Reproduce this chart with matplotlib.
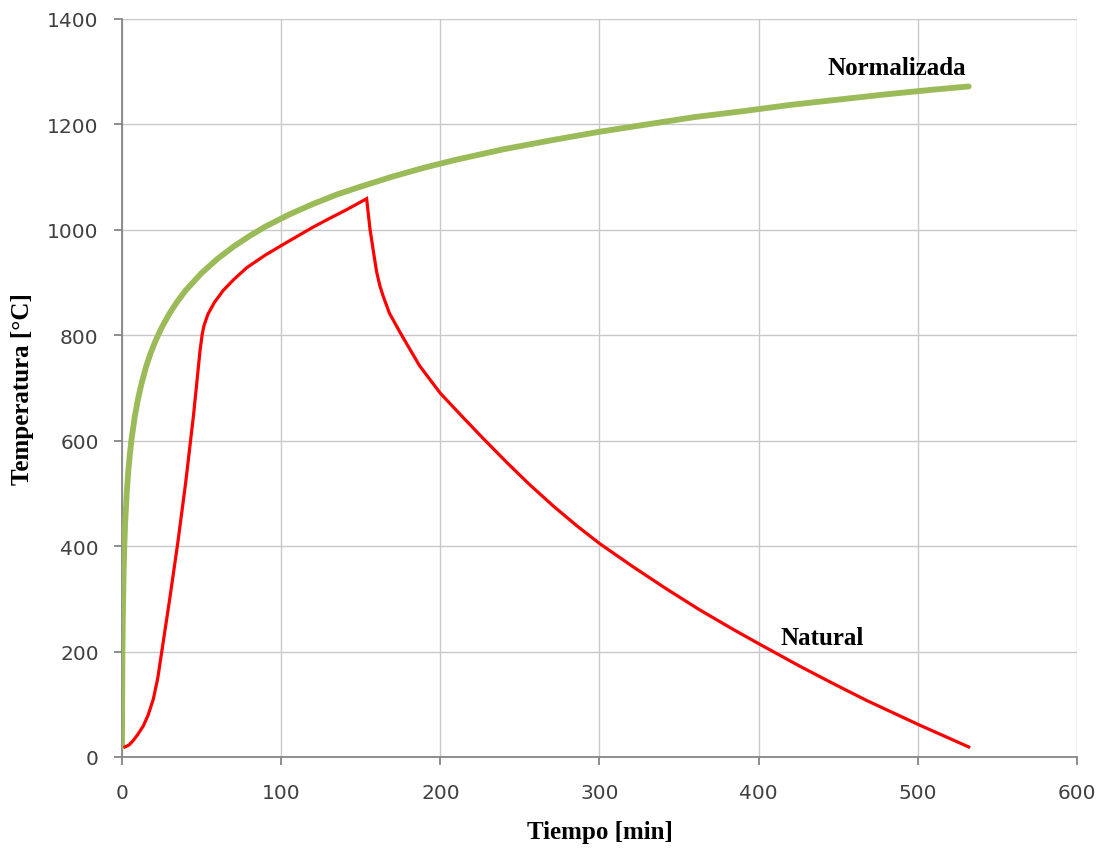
import matplotlib
matplotlib.use("Agg")
import matplotlib.pyplot as plt

# Normalizada (standard fire curve)
t_norm = [0, 0.25, 0.5, 1, 1.5, 2, 3, 4, 5, 6, 8, 10, 12, 15, 18, 21, 25,
          30, 35, 40, 50, 60, 70, 80, 90, 105, 120, 135, 150, 170, 190,
          210, 240, 270, 300, 330, 360, 390, 420, 450, 480, 510, 532]
T_norm = [20, 185, 261, 349, 404, 445, 502, 544, 576, 603, 645, 678, 705,
          739, 766, 789, 815, 842, 865, 885, 918, 945, 968, 988, 1006, 1029,
          1049, 1067, 1082, 1101, 1118, 1133, 1153, 1170, 1186, 1200, 1214,
          1225, 1237, 1247, 1257, 1266, 1272]

# Natural fire curve
t_nat = [1.9, 4.5, 7, 10, 13.4, 16.5, 19.7, 22.5, 25, 30, 35, 40, 45, 49,
         50.4, 51.5, 54, 58, 63.6, 70, 78.3, 90, 100, 120, 130, 141, 153.7,
         155.8, 158, 160, 162, 164, 168, 174.6, 180, 187, 200, 214, 227, 242,
         256, 271, 286, 300, 321, 342, 363, 384, 400, 426, 447, 468, 500, 532]
T_nat = [19, 23, 31, 43, 59, 80, 110, 150, 200, 300, 405, 520, 650, 770,
         802, 818, 840, 862, 885, 905, 928, 952, 970, 1005, 1021, 1038, 1059,
         1002, 958, 920, 894, 875, 842, 806, 778, 742, 690, 645, 604, 558,
         517, 476, 438, 405, 361, 319, 279, 242, 215, 172, 139, 107, 62, 19]

fig = plt.figure(figsize=(11.03, 8.53), dpi=100)
ax = fig.add_axes([0.1106, 0.1114, 0.8658, 0.8652])

ax.plot(t_norm, T_norm, color='#9BBB59', lw=4.2, solid_capstyle='round', zorder=3)
ax.plot(t_nat, T_nat, color='#FF0000', lw=2.3, solid_joinstyle='miter', zorder=4)

ax.set_xlim(0, 600)
ax.set_ylim(0, 1400)
ax.set_xticks(range(0, 601, 100))
ax.set_yticks(range(0, 1401, 200))
ax.grid(True, color='#C8C8C8', lw=1.0)
ax.set_axisbelow(True)

for s in ['top', 'right']:
    ax.spines[s].set_visible(False)
for s in ['left', 'bottom']:
    ax.spines[s].set_color('#868686')
    ax.spines[s].set_linewidth(1.3)
ax.tick_params(direction='out', length=5.8, width=1.3, color='#868686',
               labelsize=14.5, labelcolor='#404040')
ax.tick_params(axis='x', pad=13)
ax.tick_params(axis='y', pad=11)

serif = ['Liberation Serif', 'DejaVu Serif']
ax.set_xlabel('Tiempo [min]', fontsize=18, fontweight='bold', family=serif, va='center')
ax.set_ylabel('Temperatura [°C]', fontsize=18, fontweight='bold', family=serif, va='center')
ax.xaxis.set_label_coords(0.5, -0.1016)
ax.yaxis.set_label_coords(-0.1047, 0.5)

ax.text(487, 1307, 'Normalizada', fontsize=18, fontweight='bold', family=serif,
        ha='center', va='center')
ax.text(440, 226, 'Natural', fontsize=18, fontweight='bold', family=serif,
        ha='center', va='center')

fig.savefig('out.png', dpi=100)
